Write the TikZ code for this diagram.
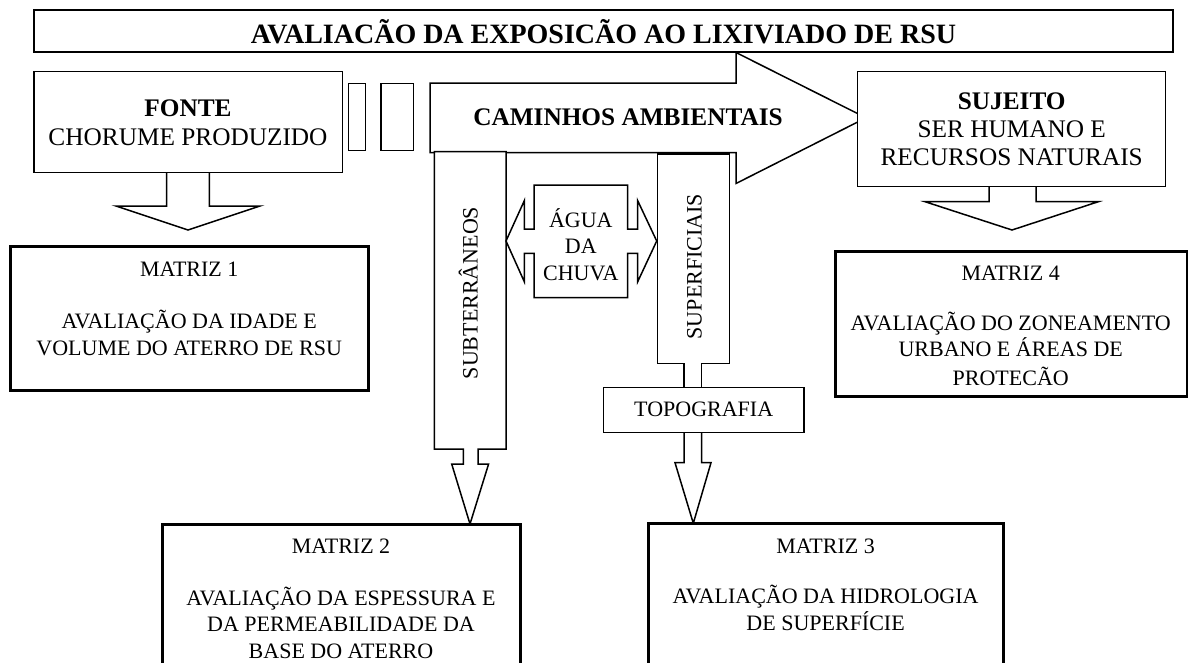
\documentclass[tikz,border=0pt]{standalone}
\usepackage{fontspec}
\setmainfont{Liberation Serif}
\usetikzlibrary{fit}
\begin{document}
\begin{tikzpicture}[x=1pt,y=-1pt,
  box/.style={draw, line width=1.5pt, fill=white, inner sep=0pt},
  mbox/.style={draw, line width=3pt, fill=white, inner sep=0pt},
  blk/.style={draw, line width=1.5pt, fill=white, line join=miter},
  ttl/.style={font=\fontsize{28}{32}\selectfont\bfseries, inner sep=0pt},
  hd/.style={font=\fontsize{25.3}{29}\selectfont\bfseries, inner sep=0pt},
  tx/.style={font=\fontsize{25.3}{29}\selectfont, inner sep=0pt},
  sm/.style={font=\fontsize{22}{26.5}\selectfont, inner sep=0pt}]
\useasboundingbox (0,0) rectangle (1188,662);
\fill[white] (0,0) rectangle (1188,662);

% big arrow: caminhos ambientais
\draw[blk] (430,83) -- (736,83) -- (736,52.5) -- (866,117.8) -- (736,183.5) -- (736,152.5) -- (430,152.5) -- cycle;

% title
\coordinate (t1) at (34,10); \coordinate (t2) at (1173,52);
\node[box, fit=(t1)(t2)] (title) {};
\node[ttl, anchor=base] (titletext) at (603.5,43.5) {AVALIACÃO DA EXPOSICÃO AO LIXIVIADO DE RSU};

% small rectangles
\coordinate (r1a) at (348.7,83.3); \coordinate (r1b) at (365.3,150.7);
\node[box, fit=(r1a)(r1b)] (rect1) {};
\coordinate (r2a) at (381,83.3); \coordinate (r2b) at (413.3,150.7);
\node[box, fit=(r2a)(r2b)] (rect2) {};

% fonte arrow and box
\draw[blk] (166.7,170) -- (166.7,206) -- (116,206) -- (188,230) -- (260,206) -- (209.3,206) -- (209.3,170);
\coordinate (f1) at (34,71.7); \coordinate (f2) at (342.3,172.7);
\node[box, fit=(f1)(f2)] (fonte) {};
\node[hd, anchor=base] (fontet1) at (188,116.7) {FONTE};
\node[tx, anchor=base] (fontet2) at (188,145.7) {CHORUME PRODUZIDO};

% subterraneos column arrow
\draw[blk] (434.3,151.5) -- (506,151.5) -- (506,449) -- (478,449) -- (478,464) -- (488.6,464) -- (470,524) -- (451.7,464) -- (463.3,464) -- (463.3,449) -- (434.3,449) -- cycle;
\node[sm, rotate=90, anchor=base] (subt) at (477.5,293) {SUBTERRÂNEOS};

% superficiais column arrow
\draw[blk] (657.7,154) -- (729.3,154) -- (729.3,363.3) -- (701.7,363.3) -- (701.7,390) -- (684,390) -- (684,363.3) -- (657.7,363.3) -- cycle;
\node[sm, rotate=90, anchor=base] (supe) at (701.5,266.5) {SUPERFICIAIS};

% agua da chuva double arrow
\draw[blk] (534,185) -- (627.7,185) -- (627.7,229) -- (637.7,229) -- (637.7,200.7) -- (656.7,241) -- (637.7,281.7) -- (637.7,253.3) -- (627.7,253.3) -- (627.7,297.7) -- (534,297.7) -- (534,253.3) -- (524.3,253.3) -- (524.3,281.7) -- (506,241) -- (524.3,200.7) -- (524.3,229) -- (534,229) -- cycle;
\node[sm, anchor=base] (agua1) at (580.8,227.7) {ÁGUA};
\node[sm, anchor=base] (agua2) at (580.8,253.3) {DA};
\node[sm, anchor=base] (agua3) at (580.8,280) {CHUVA};

% caminhos text
\node[hd, anchor=base] (caminhos) at (628,125) {CAMINHOS AMBIENTAIS};

% topografia
\draw[blk] (684,430) -- (684,462.7) -- (675,462.7) -- (693.3,523.3) -- (711,462.7) -- (701.7,462.7) -- (701.7,430);
\coordinate (tp1) at (603.3,387.3); \coordinate (tp2) at (804,432.3);
\node[box, fit=(tp1)(tp2)] (topo) {};
\node[sm, anchor=base] (topot) at (703.7,416.7) {TOPOGRAFIA};

% sujeito arrow and box
\draw[blk] (989,184) -- (989,201.7) -- (925,201.7) -- (1012,230) -- (1098.3,201.7) -- (1036,201.7) -- (1036,184);
\coordinate (s1) at (857.7,71.7); \coordinate (s2) at (1165.7,186.7);
\node[box, fit=(s1)(s2)] (sujeito) {};
\node[hd, anchor=base] (sujt1) at (1011.7,109) {SUJEITO};
\node[tx, anchor=base] (sujt2) at (1011.7,137.7) {SER HUMANO E};
\node[tx, anchor=base] (sujt3) at (1011.7,165.7) {RECURSOS NATURAIS};

% matriz 1
\coordinate (m1a) at (10,246); \coordinate (m1b) at (368.3,390.7);
\node[mbox, fit=(m1a)(m1b)] (m1) {};
\node[sm, anchor=base] (m1t1) at (189.2,276.7) {MATRIZ 1};
\node[sm, anchor=base] (m1t2) at (189.2,328.3) {AVALIAÇÃO DA IDADE E};
\node[sm, anchor=base] (m1t3) at (189.2,355) {VOLUME DO ATERRO DE RSU};

% matriz 4
\coordinate (m4a) at (835,251.7); \coordinate (m4b) at (1187,396.7);
\node[mbox, fit=(m4a)(m4b)] (m4) {};
\node[sm, anchor=base] (m4t1) at (1010.7,280) {MATRIZ 4};
\node[sm, anchor=base] (m4t2) at (1010.7,330) {AVALIAÇÃO DO ZONEAMENTO};
\node[sm, anchor=base] (m4t3) at (1010.7,356.7) {URBANO E ÁREAS DE};
\node[sm, anchor=base] (m4t4) at (1010.7,385) {PROTECÃO};

% matriz 2
\coordinate (m2a) at (162,524); \coordinate (m2b) at (520,700);
\node[mbox, fit=(m2a)(m2b)] (m2) {};
\node[sm, anchor=base] (m2t1) at (341,553.3) {MATRIZ 2};
\node[sm, anchor=base] (m2t2) at (341,605) {AVALIAÇÃO DA ESPESSURA E};
\node[sm, anchor=base] (m2t3) at (341,631.7) {DA PERMEABILIDADE DA};
\node[sm, anchor=base] (m2t4) at (341,658.3) {BASE DO ATERRO};

% matriz 3
\coordinate (m3a) at (648,523.3); \coordinate (m3b) at (1003,700);
\node[mbox, fit=(m3a)(m3b)] (m3) {};
\node[sm, anchor=base] (m3t1) at (825.6,553.3) {MATRIZ 3};
\node[sm, anchor=base] (m3t2) at (825.6,603.3) {AVALIAÇÃO DA HIDROLOGIA};
\node[sm, anchor=base] (m3t3) at (825.6,630) {DE SUPERFÍCIE};
\end{tikzpicture}
\end{document}
